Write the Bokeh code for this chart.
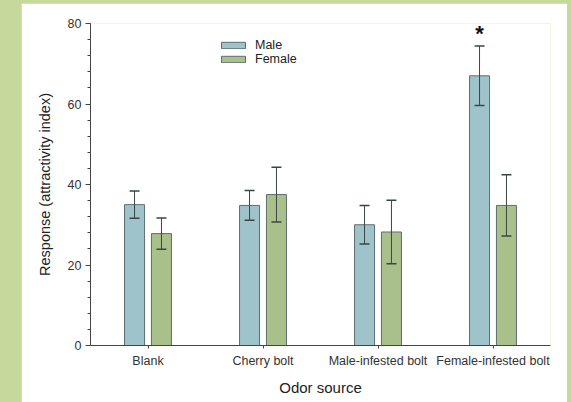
from bokeh.plotting import figure
from bokeh.models import (ColumnDataSource, FactorRange, Whisker, TeeHead, Legend,
                          LegendItem, FixedTicker)
from bokeh.transform import dodge
from bokeh.core.properties import value
from bokeh.embed import file_html
from bokeh.resources import INLINE

categories = ["Blank", "Cherry bolt", "Male-infested bolt", "Female-infested bolt"]
male_mean = [35.0, 34.8, 30.0, 67.0]
male_err = [3.4, 3.7, 4.8, 7.4]
female_mean = [27.8, 37.5, 28.2, 34.8]
female_err = [3.9, 6.8, 7.9, 7.6]
y_ticks = [0, 20, 40, 60, 80]
significant = ["", "", "", "*"]

FONT = "Liberation Sans"
MALE_C = "#9fc3cb"
FEMALE_C = "#a9c08b"
EDGE = "#5d6e70"
ERR_C = "#3b4545"
AX_C = "#444444"

src = ColumnDataSource(dict(
    cat=categories,
    m=male_mean, m_up=[a + b for a, b in zip(male_mean, male_err)],
    m_lo=[a - b for a, b in zip(male_mean, male_err)],
    f=female_mean, f_up=[a + b for a, b in zip(female_mean, female_err)],
    f_lo=[a - b for a, b in zip(female_mean, female_err)],
    star=significant,
    star_y=[a + b + 3.2 for a, b in zip(male_mean, male_err)],
))

p = figure(width=546, height=399, output_backend="svg", toolbar_location=None,
           x_range=FactorRange(factors=categories, range_padding=0),
           y_range=(0, 80), margin=(3, 0, 0, 21),
           min_border_left=69, min_border_right=17, min_border_top=20,
           min_border_bottom=57)
p.outline_line_color = None
p.grid.visible = False
p.background_fill_color = "white"
p.border_fill_color = "white"

off = 0.117
w = 0.174
rm = p.vbar(x=dodge("cat", -off, range=p.x_range), top="m", width=w, source=src,
            fill_color=MALE_C, line_color=EDGE, line_width=1)
rf = p.vbar(x=dodge("cat", off, range=p.x_range), top="f", width=w, source=src,
            fill_color=FEMALE_C, line_color=EDGE, line_width=1)

for key, o in (("m", -off), ("f", off)):
    wk = Whisker(base=dodge("cat", o, range=p.x_range), upper=key + "_up",
                 lower=key + "_lo", source=src, line_color=ERR_C, line_width=1,
                 upper_head=TeeHead(size=10, line_color=ERR_C, line_width=1.5),
                 lower_head=TeeHead(size=10, line_color=ERR_C, line_width=1.5),
                 level="overlay")
    p.add_layout(wk)

p.text(x=dodge("cat", -off, range=p.x_range), y="star_y", text="star", source=src,
       text_font=value(FONT), text_font_style="bold", text_font_size="22px",
       text_align="center", text_baseline="alphabetic", text_color="#111111")

# axes
p.yaxis.ticker = FixedTicker(ticks=y_ticks, minor_ticks=list(range(0, 81, 4)))
for ax in (p.xaxis, p.yaxis):
    ax.axis_line_color = AX_C
    ax.major_tick_line_color = AX_C
    ax.minor_tick_line_color = AX_C
    ax.major_label_text_font = FONT
    ax.major_label_text_font_size = "12.5px"
    ax.major_label_text_color = "#333333"
    ax.axis_label_text_font = FONT
    ax.axis_label_text_font_style = "normal"
    ax.axis_label_text_color = "#222222"
    ax.major_tick_in = 0
    ax.minor_tick_in = 0
p.yaxis.major_tick_out = 5
p.yaxis.minor_tick_out = 3
p.yaxis.major_label_standoff = 4
p.yaxis.axis_label = "Response (attractivity index)"
p.yaxis.axis_label_text_font_size = "14.5px"
p.yaxis.axis_label_standoff = 12
p.xaxis.major_tick_out = 3
p.xaxis.major_label_standoff = 5
p.xaxis.axis_label = "Odor source"
p.xaxis.axis_label_text_font_size = "15px"
p.xaxis.axis_label_standoff = 8

legend = Legend(items=[LegendItem(label="Male", renderers=[rm]),
                       LegendItem(label="Female", renderers=[rf])],
                location=(128, 279), orientation="vertical",
                glyph_width=30, glyph_height=8, label_standoff=7,
                label_height=10, spacing=-2, padding=0, margin=0,
                border_line_color=None, background_fill_alpha=0,
                label_text_font=FONT, label_text_font_size="12.5px",
                label_text_color="#222222")
p.add_layout(legend)

html = file_html(p, INLINE)
html = html.replace("</head>",
                    "<style>html, body { background-color: #c6d99d !important; }</style></head>", 1)
open("out.html", "w").write(html)
